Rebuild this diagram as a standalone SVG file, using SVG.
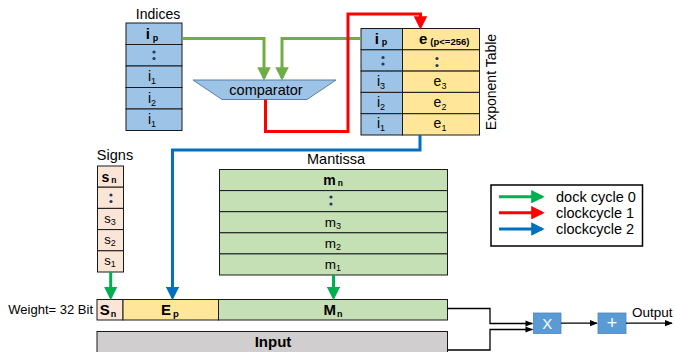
<svg xmlns="http://www.w3.org/2000/svg" width="675" height="352" viewBox="0 0 675 352">
  <defs>
    <style>
      text { font-family: "Liberation Sans", Arial, sans-serif; fill: #000; }
      .cell { stroke: #1a1a1a; stroke-width: 1; }
      .blue { fill: #9DC3E6; }
      .yel { fill: #FFE699; }
      .grn { fill: #C5E0B4; }
      .pink { fill: #FBE5D6; }
      .gray { fill: #D0CECE; }
      .lbl { font-size: 14px; }
      .c { text-anchor: middle; }
      .b { font-weight: bold; }
      .sub { font-size: 9px; }
      .dot { fill: #1F3864; }
      .w { stroke-width: 3; fill: none; }
      .thin { stroke: #000; stroke-width: 1.3; fill: none; }
    </style>
    <marker id="ag" viewBox="0 0 10 10" refX="8" refY="5" markerWidth="4.5" markerHeight="4.5" orient="auto"><path d="M0,0 L10,5 L0,10 z" fill="#70AD47"/></marker>
    <marker id="ag0" viewBox="0 0 10 10" refX="8" refY="5" markerWidth="4.5" markerHeight="4.5" orient="auto"><path d="M0,0 L10,5 L0,10 z" fill="#00B050"/></marker>
    <marker id="ar" viewBox="0 0 10 10" refX="8" refY="5" markerWidth="4.5" markerHeight="4.5" orient="auto"><path d="M0,0 L10,5 L0,10 z" fill="#FF0000"/></marker>
    <marker id="ab" viewBox="0 0 10 10" refX="8" refY="5" markerWidth="4.5" markerHeight="4.5" orient="auto"><path d="M0,0 L10,5 L0,10 z" fill="#0070C0"/></marker>
    <marker id="ak" viewBox="0 0 10 10" refX="9" refY="5" markerWidth="6" markerHeight="6" orient="auto"><path d="M0,1 L10,5 L0,9 z" fill="#000"/></marker>
  </defs>

  <!-- Indices table -->
  <g id="indices">
    <text x="158" y="19" class="lbl c">Indices</text>
    <rect x="126" y="23" width="56" height="21.5" class="cell blue"/>
    <rect x="126" y="44.5" width="56" height="21.5" class="cell blue"/>
    <rect x="126" y="66" width="56" height="21.5" class="cell blue"/>
    <rect x="126" y="87.5" width="56" height="21.5" class="cell blue"/>
    <rect x="126" y="109" width="56" height="21.5" class="cell blue"/>
    <text x="152" y="39" class="b c" font-size="15">i<tspan class="sub" dx="3" dy="2">p</tspan></text>
    <circle cx="154" cy="52" r="1.6" class="dot"/>
    <circle cx="154" cy="58.5" r="1.6" class="dot"/>
    <text x="152" y="81" class="lbl c">i<tspan class="sub" dy="3">1</tspan></text>
    <text x="152" y="102.5" class="lbl c">i<tspan class="sub" dy="3">2</tspan></text>
    <text x="152" y="124" class="lbl c">i<tspan class="sub" dy="3">1</tspan></text>
  </g>

  <!-- Comparator -->
  <g id="comparator">
    <polygon points="193,80 336,80 307,99.5 222,99.5" fill="#9DC3E6" stroke="#5B7FA6" stroke-width="1"/>
    <text x="266" y="95" class="c" font-size="14.5">comparator</text>
  </g>

  <!-- Exponent table -->
  <g id="exponent-table">
    <rect x="361" y="28.5" width="41.5" height="21.3" class="cell blue"/>
    <rect x="361" y="49.8" width="41.5" height="21.3" class="cell blue"/>
    <rect x="361" y="71.1" width="41.5" height="21.3" class="cell blue"/>
    <rect x="361" y="92.4" width="41.5" height="21.3" class="cell blue"/>
    <rect x="361" y="113.7" width="41.5" height="21.3" class="cell blue"/>
    <rect x="402.5" y="28.5" width="77" height="21.3" class="cell yel"/>
    <rect x="402.5" y="49.8" width="77" height="21.3" class="cell yel"/>
    <rect x="402.5" y="71.1" width="77" height="21.3" class="cell yel"/>
    <rect x="402.5" y="92.4" width="77" height="21.3" class="cell yel"/>
    <rect x="402.5" y="113.7" width="77" height="21.3" class="cell yel"/>
    <text x="381" y="44" class="b c" font-size="15">i<tspan class="sub" dx="3" dy="1">p</tspan></text>
    <text x="419" y="44" class="b" font-size="15">e<tspan font-size="9.5" dx="3" dy="1">(p&lt;=256)</tspan></text>
    <circle cx="383" cy="57.5" r="1.6" class="dot"/>
    <circle cx="383" cy="64" r="1.6" class="dot"/>
    <circle cx="437" cy="58.5" r="1.6" class="dot"/>
    <circle cx="437" cy="65.5" r="1.6" class="dot"/>
    <text x="381" y="86" class="lbl c">i<tspan class="sub" dy="3">3</tspan></text>
    <text x="381" y="107" class="lbl c">i<tspan class="sub" dy="3">2</tspan></text>
    <text x="381" y="128" class="lbl c">i<tspan class="sub" dy="3">1</tspan></text>
    <text x="440" y="86" class="lbl c">e<tspan class="sub" dy="3">3</tspan></text>
    <text x="440" y="107" class="lbl c">e<tspan class="sub" dy="3">2</tspan></text>
    <text x="440" y="128" class="lbl c">e<tspan class="sub" dy="3">1</tspan></text>
    <text x="0" y="0" class="lbl c" transform="translate(496,82) rotate(-90)">Exponent Table</text>
  </g>

  <!-- Signs column -->
  <g id="signs">
    <text x="115" y="160" class="c" font-size="14.5">Signs</text>
    <rect x="97.5" y="166" width="26" height="21.2" class="cell pink"/>
    <rect x="97.5" y="187.2" width="26" height="21.2" class="cell pink"/>
    <rect x="97.5" y="208.4" width="26" height="21.2" class="cell pink"/>
    <rect x="97.5" y="229.6" width="26" height="21.2" class="cell pink"/>
    <rect x="97.5" y="250.8" width="26" height="21.2" class="cell pink"/>
    <text x="109" y="182" class="b c" font-size="14">s<tspan font-size="8.5" dx="2" dy="1">n</tspan></text>
    <circle cx="111" cy="195" r="1.6" class="dot"/>
    <circle cx="111" cy="201.5" r="1.6" class="dot"/>
    <text x="110" y="223" class="c" font-size="13">s<tspan class="sub" dy="2">3</tspan></text>
    <text x="110" y="244" class="c" font-size="13">s<tspan class="sub" dy="2">2</tspan></text>
    <text x="110" y="265" class="c" font-size="13">s<tspan class="sub" dy="2">1</tspan></text>
  </g>

  <!-- Mantissa table -->
  <g id="mantissa">
    <text x="336" y="164" class="c" font-size="14.5">Mantissa</text>
    <rect x="219.5" y="169.5" width="228" height="21.1" class="cell grn"/>
    <rect x="219.5" y="190.6" width="228" height="21.1" class="cell grn"/>
    <rect x="219.5" y="211.7" width="228" height="21.1" class="cell grn"/>
    <rect x="219.5" y="232.8" width="228" height="21.1" class="cell grn"/>
    <rect x="219.5" y="253.9" width="228" height="21.1" class="cell grn"/>
    <text x="333" y="185" class="b c" font-size="14">m<tspan font-size="8.5" dx="2" dy="1">n</tspan></text>
    <circle cx="331" cy="197" r="1.6" class="dot"/>
    <circle cx="331" cy="204" r="1.6" class="dot"/>
    <text x="333" y="227" class="c" font-size="13.5">m<tspan class="sub" dy="2">3</tspan></text>
    <text x="333" y="248" class="c" font-size="13.5">m<tspan class="sub" dy="2">2</tspan></text>
    <text x="333" y="269" class="c" font-size="13.5">m<tspan class="sub" dy="2">1</tspan></text>
  </g>

  <!-- Weight word -->
  <g id="weight">
    <text x="93" y="314" font-size="13" text-anchor="end">Weight= 32 Bit</text>
    <rect x="97" y="299.5" width="26" height="20.5" class="cell pink"/>
    <rect x="123" y="299.5" width="95.5" height="20.5" class="cell yel"/>
    <rect x="218.5" y="299.5" width="229" height="20.5" class="cell grn"/>
    <text x="108" y="315" class="b c" font-size="15">S<tspan font-size="9" dx="1" dy="2">n</tspan></text>
    <text x="170" y="315" class="b c" font-size="15">E<tspan font-size="9.5" dx="2" dy="2">p</tspan></text>
    <text x="333" y="315" class="b c" font-size="15">M<tspan font-size="9" dx="1" dy="2">n</tspan></text>
  </g>

  <!-- Input word -->
  <g id="input">
    <rect x="97" y="331.5" width="350.5" height="25" class="cell gray"/>
    <text x="273" y="347" class="b c" font-size="15">Input</text>
  </g>

  <!-- Multiplier and adder -->
  <g id="mult">
    <rect x="533.5" y="313" width="27.5" height="20.5" fill="#5B9BD5" stroke="#4A86C0" stroke-width="0.8"/>
    <text x="547.3" y="328.5" font-size="15" text-anchor="middle" style="fill:#fff">X</text>
  </g>
  <g id="adder">
    <rect x="598" y="313" width="28" height="20.5" fill="#5B9BD5" stroke="#4A86C0" stroke-width="0.8"/>
    <text x="612" y="329" font-size="18" text-anchor="middle" style="fill:#fff">+</text>
  </g>
  <g id="output-label">
    <text x="632" y="317" font-size="13.5">Output</text>
  </g>

  <!-- Legend -->
  <g id="legend">
    <rect x="491" y="185" width="151.5" height="61" fill="#fff" stroke="#000" stroke-width="1.5"/>
    <line x1="499" y1="196.7" x2="542" y2="196.7" stroke="#00B050" stroke-width="3" marker-end="url(#ag0)"/>
    <line x1="499" y1="212.7" x2="542" y2="212.7" stroke="#FF0000" stroke-width="3" marker-end="url(#ar)"/>
    <line x1="499" y1="229" x2="542" y2="229" stroke="#0070C0" stroke-width="3" marker-end="url(#ab)"/>
    <text x="556" y="201.5" font-size="14.5">dock cycle 0</text>
    <text x="556" y="217.5" font-size="14.5">clockcycle 1</text>
    <text x="556" y="233.5" font-size="14.5">clockcycle 2</text>
  </g>

  <!-- Connectors -->
  <g id="connectors">
    <polyline points="182,38.5 264,38.5 264,78" class="w" stroke="#70AD47" marker-end="url(#ag)"/>
    <polyline points="361,38.5 282,38.5 282,78" class="w" stroke="#70AD47" marker-end="url(#ag)"/>
    <polyline points="265.5,99.5 265.5,131.5 348,131.5 348,14 420.5,14 420.5,27" class="w" stroke="#FF0000" marker-end="url(#ar)"/>
    <polyline points="420,135 420,150 172.5,150 172.5,297.5" class="w" stroke="#0070C0" marker-end="url(#ab)"/>
    <line x1="110.7" y1="272" x2="110.7" y2="297.5" class="w" stroke="#00B050" marker-end="url(#ag0)"/>
    <line x1="333.5" y1="275" x2="333.5" y2="297.5" class="w" stroke="#00B050" marker-end="url(#ag0)"/>
    <polyline points="447.5,308.5 490,308.5 490,323.5 532.5,323.5" class="thin" marker-end="url(#ak)"/>
    <polyline points="447.5,350 490,350 490,329.5 532.5,329.5" class="thin" marker-end="url(#ak)"/>
    <line x1="561" y1="323.2" x2="597" y2="323.2" class="thin" marker-end="url(#ak)"/>
    <line x1="626" y1="323.2" x2="672" y2="323.2" class="thin" marker-end="url(#ak)"/>
  </g>
</svg>
